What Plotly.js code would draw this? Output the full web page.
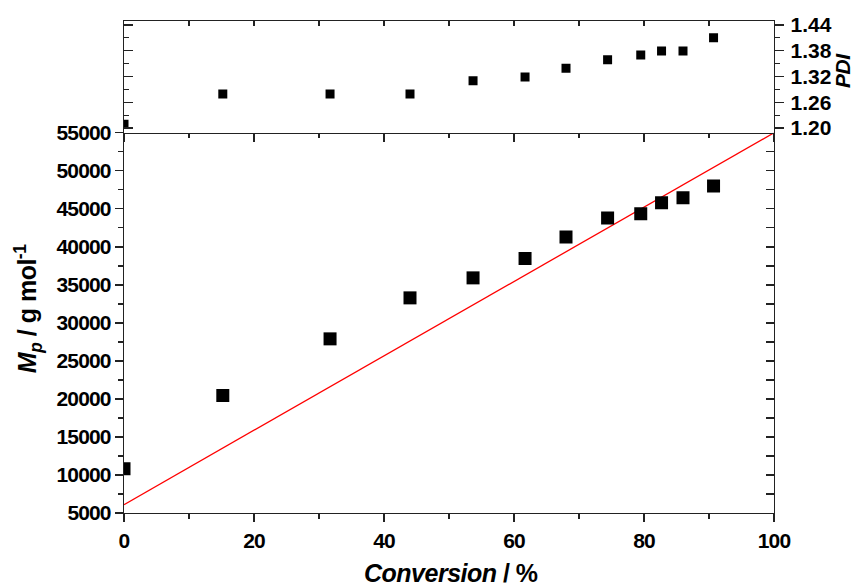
<!DOCTYPE html>
<html>
<head>
<meta charset="utf-8">
<script src="https://cdn.plot.ly/plotly-3.0.1.min.js"></script>
<style>
html,body{margin:0;padding:0;background:#fff;}
#chart{width:855px;height:586px;}
.xaxislayer-above text, .yaxislayer-above text{letter-spacing:-0.9px;}
.annotation-text{letter-spacing:-0.5px;}
</style>
</head>
<body>
<div id="chart"></div>
<script>
// Data
const conversion = [0, 15.2, 31.7, 44.0, 53.7, 61.7, 68.0, 74.4, 79.5, 82.7, 86.0, 90.7];
const mp = [10820, 20450, 27900, 33290, 35920, 38470, 41280, 43780, 44340, 45790, 46450, 47990];
const pdi = [1.209, 1.279, 1.279, 1.279, 1.310, 1.319, 1.339, 1.359, 1.370, 1.379, 1.379, 1.410];
const theoryX = [0, 100];
const theoryY = [6100, 55000];

const xRange = [0, 100];
const mpRange = [5000, 55000];
const pdiRange = [1.189, 1.449];

const FONT = 'Liberation Sans, Arial, sans-serif';
const AX = '#222';
const tickFont = {family: FONT, size: 21, color: '#000', weight: 700};
const titleFont = {family: FONT, size: 25, color: '#000', weight: 700};

const ghost = {mode: 'markers', marker: {opacity: 0, size: 1}, showlegend: false, hoverinfo: 'skip'};

const traces = [
  {x: theoryX, y: theoryY, mode: 'lines', line: {color: '#ff0000', width: 1.3},
   xaxis: 'x', yaxis: 'y', showlegend: false, hoverinfo: 'skip'},
  {x: conversion, y: mp, mode: 'markers', marker: {symbol: 'square', size: 13, color: '#000'},
   xaxis: 'x', yaxis: 'y', showlegend: false},
  {x: conversion, y: pdi, mode: 'markers', marker: {symbol: 'square', size: 9, color: '#000'},
   xaxis: 'x2', yaxis: 'y2', showlegend: false},
  // invisible copies so the mirror axes get drawn
  Object.assign({x: conversion, y: mp, xaxis: 'x', yaxis: 'y3'}, ghost),
  Object.assign({x: conversion, y: pdi, xaxis: 'x3', yaxis: 'y2'}, ghost),
  Object.assign({x: conversion, y: pdi, xaxis: 'x2', yaxis: 'y4'}, ghost)
];

const mainTop = 0.7728;

const layout = {
  width: 855, height: 586,
  margin: {l: 124, r: 81, t: 21, b: 73.3, pad: 0},
  paper_bgcolor: '#fff', plot_bgcolor: '#fff',
  font: {family: FONT, color: '#000'},
  showlegend: false,
  xaxis: {
    domain: [0, 1], range: xRange, anchor: 'y', side: 'bottom',
    showgrid: false, zeroline: false, showline: true, linecolor: AX, linewidth: 1.3,
    ticks: 'outside', ticklen: 8, tickwidth: 1.3, tickcolor: AX, dtick: 20, tick0: 0,
    minor: {ticks: 'outside', ticklen: 4.5, tickwidth: 1.3, tickcolor: AX, dtick: 10},
    tickfont: tickFont
  },
  xaxis2: {
    domain: [0, 1], range: xRange, anchor: 'y2', side: 'bottom',
    showgrid: false, zeroline: false, showline: true, linecolor: AX, linewidth: 1.3,
    ticks: 'outside', ticklen: 8, tickwidth: 1.3, tickcolor: AX, dtick: 20, tick0: 0,
    minor: {ticks: 'outside', ticklen: 4, tickwidth: 1.3, tickcolor: AX, dtick: 10},
    showticklabels: false
  },
  xaxis3: {
    domain: [0, 1], range: xRange, anchor: 'y2', overlaying: 'x2', side: 'top',
    showgrid: false, zeroline: false, showline: true, linecolor: AX, linewidth: 1.3,
    ticks: 'inside', ticklen: 5, tickwidth: 1.3, tickcolor: AX, dtick: 10, tick0: 0,
    showticklabels: false
  },
  yaxis: {
    domain: [0, mainTop], range: mpRange, anchor: 'x', side: 'left',
    showgrid: false, zeroline: false, showline: true, linecolor: AX, linewidth: 1.3,
    ticks: 'outside', ticklen: 8, tickwidth: 1.3, tickcolor: AX, dtick: 5000, tick0: 5000,
    minor: {ticks: 'outside', ticklen: 5, tickwidth: 1.3, tickcolor: AX, dtick: 2500},
    tickfont: tickFont, tickformat: 'd'
  },
  yaxis3: {
    domain: [0, mainTop], range: mpRange, anchor: 'x', overlaying: 'y', side: 'right',
    showgrid: false, zeroline: false, showline: true, linecolor: AX, linewidth: 1.3,
    ticks: 'inside', ticklen: 8, tickwidth: 1.3, tickcolor: AX, dtick: 2500, tick0: 5000,
    showticklabels: false
  },
  yaxis2: {
    domain: [mainTop, 1], range: pdiRange, anchor: 'x2', side: 'left',
    showgrid: false, zeroline: false, showline: true, linecolor: AX, linewidth: 1.3,
    ticks: 'inside', ticklen: 9, tickwidth: 1.3, tickcolor: AX, dtick: 0.06, tick0: 1.2,
    minor: {ticks: 'inside', ticklen: 5, tickwidth: 1.3, tickcolor: AX, dtick: 0.03},
    showticklabels: false
  },
  yaxis4: {
    domain: [mainTop, 1], range: pdiRange, anchor: 'x2', overlaying: 'y2', side: 'right',
    showgrid: false, zeroline: false, showline: true, linecolor: AX, linewidth: 1.3,
    ticks: 'outside', ticklen: 9, tickwidth: 1.3, tickcolor: AX, dtick: 0.06, tick0: 1.2,
    minor: {ticks: 'outside', ticklen: 5, tickwidth: 1.3, tickcolor: AX, dtick: 0.03},
    tickfont: tickFont, tickformat: '.2f', ticklabelstandoff: 2
  },
  annotations: [
    {text: '<i>Conversion</i> / %', xref: 'paper', yref: 'paper', x: 0.503, y: -0.1226,
     xanchor: 'center', yanchor: 'middle', showarrow: false, font: titleFont},
    {text: '<i>M</i><sub><i>p</i></sub> / g mol<sup>-1</sup>', xref: 'paper', yref: 'paper',
     x: -0.1477, y: 0.4163, xanchor: 'center', yanchor: 'middle', textangle: -90, showarrow: false, font: titleFont},
    {text: '<i>PDI</i>', xref: 'paper', yref: 'paper', x: 1.1046, y: 0.9003,
     xanchor: 'center', yanchor: 'middle', textangle: -90, showarrow: false, borderpad: 0,
     font: {family: FONT, size: 21, color: '#000', weight: 700}}
  ]
};

Plotly.newPlot('chart', traces, layout, {displayModeBar: false, staticPlot: true});
</script>
</body>
</html>
